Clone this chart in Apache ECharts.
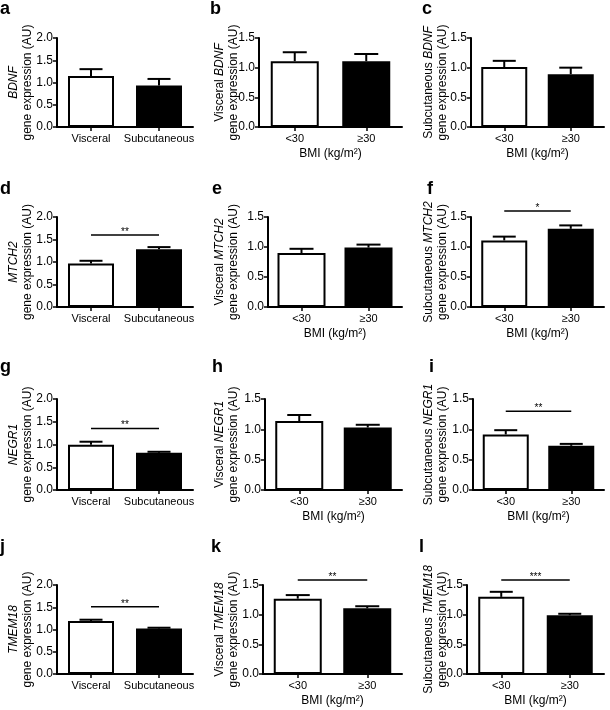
<!DOCTYPE html>
<html><head><meta charset="utf-8">
<script src="https://cdn.jsdelivr.net/npm/echarts@6/dist/echarts.min.js"></script>
<style>html,body{margin:0;padding:0;background:#fff}#c{width:610px;height:710px}</style>
</head><body><div id="c"></div>
<script>
// ---------- data ----------
const siteCats = ['Visceral', 'Subcutaneous'];
const bmiCats = ['<30', '≥30'];
const genes = ['BDNF', 'MTCH2', 'NEGR1', 'TMEM18'];
const panelLetters = ['a','b','c','d','e','f','g','h','i','j','k','l'];
const yTicksSite = [0.0, 0.5, 1.0, 1.5, 2.0];
const yTicksBmi = [0.0, 0.5, 1.0, 1.5];

const meanA = [1.145, 0.93];  const semA = [0.155, 0.15];
const meanB = [1.11, 1.11];   const semB = [0.15, 0.12];
const meanC = [1.01, 0.89];   const semC = [0.105, 0.11];
const meanD = [0.967, 1.286]; const semD = [0.06, 0.045];
const meanE = [0.90, 0.99];   const semE = [0.07, 0.05];
const meanF = [1.11, 1.303];  const semF = [0.063, 0.057];
const meanG = [0.996, 0.82];  const semG = [0.065, 0.02];
const meanH = [1.136, 1.03];  const semH = [0.10, 0.045];
const meanI = [0.916, 0.728]; const semI = [0.07, 0.032];
const meanJ = [1.19, 1.02];   const semJ = [0.03, 0.02];
const meanK = [1.27, 1.107];  const semK = [0.06, 0.035];
const meanL = [1.30, 0.99];   const semL = [0.085, 0.025];

// significance bars: [height, stars]
const sigD = [1.60, '**'];
const sigF = [1.60, '*'];
const sigG = [1.35, '**'];
const sigI = [1.30, '**'];
const sigJ = [1.51, '**'];
const sigK = [1.586, '**'];
const sigL = [1.586, '***'];

const panelMeans = [meanA, meanB, meanC, meanD, meanE, meanF, meanG, meanH, meanI, meanJ, meanK, meanL];
const panelSems  = [semA, semB, semC, semD, semE, semF, semG, semH, semI, semJ, semK, semL];
const panelSig   = [null, null, null, sigD, null, sigF, sigG, null, sigI, sigJ, sigK, sigL];

// ---------- layout ----------
const FONT = '"Liberation Sans", Arial, Helvetica, sans-serif';
const rowTop = [38, 217, 399, 585];
const rowBottom = [127, 307, 490, 674];
const colRight = [193, 402, 604];
const axisX = [57, 259, 471, 57, 268, 471, 57, 265, 473, 57, 263, 467];
const titleRight = [35, 241, 450];
const barW = [46, 48, 46];
const letterX = [0, 210, 422, 0, 212, 427, 0, 212, 429, 0, 211, 419];
const letterTop = [0, 180, 358, 538];

const option = {
  animation: false,
  backgroundColor: '#fff',
  title: [], grid: [], xAxis: [], yAxis: [], series: []
};

for (let p = 0; p < 12; p++) {
  const row = Math.floor(p / 3), col = p % 3;
  const cats = col === 0 ? siteCats : bmiCats;
  const ticks = col === 0 ? yTicksSite : yTicksBmi;
  const gene = genes[row];
  const left = axisX[p];
  const top = rowTop[row];
  option.title.push({
    text: panelLetters[p], left: letterX[p], top: letterTop[row], padding: 0,
    textStyle: { fontFamily: FONT, fontWeight: 'bold', fontSize: 18, color: '#000' }
  });
  option.grid.push({
    left: left, top: top, width: colRight[col] - left, height: rowBottom[row] - top,
    containLabel: false, outerBoundsMode: 'none'
  });
  const xa = {
    type: 'category', gridIndex: p, data: cats,
    axisLine: { show: true, lineStyle: { color: '#000', width: 2 } },
    axisTick: { show: true, alignWithLabel: true, length: 4, lineStyle: { color: '#000', width: 1.5 } },
    axisLabel: { color: '#000', fontFamily: FONT, fontSize: 11, margin: 6, interval: 0 },
    splitLine: { show: false }
  };
  if (col > 0) {
    xa.name = 'BMI (kg/m²)';
    xa.nameLocation = 'middle';
    xa.nameGap = 21;
    xa.nameTextStyle = { color: '#000', fontFamily: FONT, fontSize: 12 };
  }
  option.xAxis.push(xa);
  const prefix = col === 0 ? '' : (col === 1 ? '{n|Visceral }' : '{n|Subcutaneous }');
  option.yAxis.push({
    type: 'value', gridIndex: p, min: ticks[0], max: ticks[ticks.length - 1], interval: ticks[1] - ticks[0],
    axisLine: { show: true, lineStyle: { color: '#000', width: 2 } },
    axisTick: { show: true, length: 4, lineStyle: { color: '#000', width: 1.5 } },
    axisLabel: { color: '#000', fontFamily: FONT, fontSize: 12, margin: 4, formatter: v => v.toFixed(1) },
    splitLine: { show: false },
    name: prefix + '{i|' + gene + '}\n{n|gene expression (AU)}',
    nameLocation: 'middle', nameRotate: 90, nameGap: left - titleRight[col],
    nameMoveOverlap: false,
    nameTextStyle: {
      color: '#000', fontFamily: FONT, fontSize: 12, lineHeight: 14,
      rich: {
        n: { color: '#000', fontFamily: FONT, fontSize: 12, lineHeight: 14 },
        i: { color: '#000', fontFamily: FONT, fontSize: 12, fontStyle: 'italic', lineHeight: 14 }
      }
    }
  });
  const means = panelMeans[p], sems = panelSems[p], sig = panelSig[p];
  option.series.push({
    type: 'bar', xAxisIndex: p, yAxisIndex: p, barWidth: barW[col], clip: false, silent: true,
    itemStyle: { borderColor: '#000', borderWidth: 2 },
    data: means.map((m, i) => ({ value: m, itemStyle: { color: i === 0 ? '#fff' : '#000' } })),
    z: 2
  });
  option.series.push({
    type: 'custom', xAxisIndex: p, yAxisIndex: p, silent: true, z: 3, clip: false,
    data: means.map((m, i) => [i, m, sems[i]]),
    renderItem: function (params, api) {
      const x = api.value(0), m = api.value(1), e = api.value(2);
      const p0 = api.coord([x, m]);
      const p1 = api.coord([x, m + e]);
      const half = barW[col] / 4;
      return {
        type: 'group',
        children: [
          { type: 'line', shape: { x1: p0[0], y1: p0[1], x2: p1[0], y2: p1[1] }, style: { stroke: '#000', lineWidth: 2 } },
          { type: 'line', shape: { x1: p1[0] - half, y1: p1[1], x2: p1[0] + half, y2: p1[1] }, style: { stroke: '#000', lineWidth: 2 } }
        ]
      };
    }
  });
  if (sig) {
    option.series.push({
      type: 'custom', xAxisIndex: p, yAxisIndex: p, silent: true, z: 3, clip: false,
      data: [[0, 1, sig[0]]],
      renderItem: function (params, api) {
        const h = api.value(2);
        const pa = api.coord([api.value(0), h]);
        const pb = api.coord([api.value(1), h]);
        return {
          type: 'group',
          children: [
            { type: 'line', shape: { x1: pa[0], y1: pa[1], x2: pb[0], y2: pb[1] }, style: { stroke: '#000', lineWidth: 1.5 } },
            { type: 'text', x: (pa[0] + pb[0]) / 2, y: pa[1] - 3,
              style: { text: sig[1], fill: '#000', font: '10px ' + FONT, align: 'center', verticalAlign: 'middle' } }
          ]
        };
      }
    });
  }
}

const chart = echarts.init(document.getElementById('c'), null, { renderer: 'canvas' });
chart.setOption(option);
</script>
</body></html>
